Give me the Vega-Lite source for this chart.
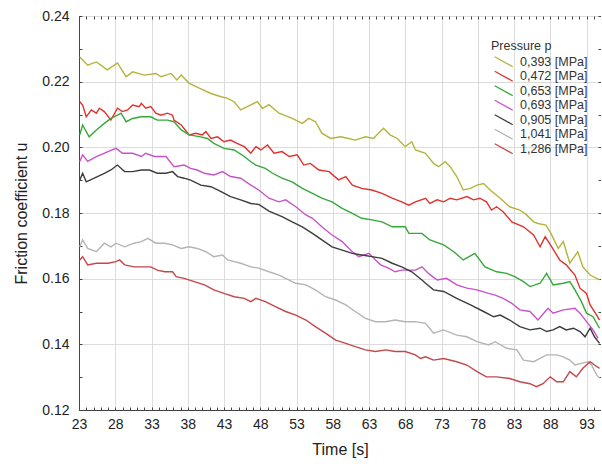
{
  "$schema": "https://vega.github.io/schema/vega-lite/v6.json",
  "autosize": {"type": "none"},
  "padding": {"left": 79, "top": 16, "right": 0, "bottom": 54},
  "width": 522,
  "height": 394,
  "background": "white",
  "config": {
    "font": "Liberation Sans",
    "view": {"stroke": "#555", "strokeWidth": 1},
    "axis": {"labelFont": "Liberation Sans", "titleFont": "Liberation Sans", "labelColor": "#222", "titleColor": "#222", "domainColor": "#444", "tickColor": "#444"}
  },
  "datasets": {
    "raw": [
      {"p":"0,393 [MPa]","t":23.1,"u":0.2275},{"p":"0,393 [MPa]","t":24.2,"u":0.225},{"p":"0,393 [MPa]","t":25.4,"u":0.226},{"p":"0,393 [MPa]","t":26.9,"u":0.2236},{"p":"0,393 [MPa]","t":28.3,"u":0.2257},{"p":"0,393 [MPa]","t":29.5,"u":0.2215},{"p":"0,393 [MPa]","t":30.4,"u":0.223},{"p":"0,393 [MPa]","t":32.0,"u":0.222},{"p":"0,393 [MPa]","t":33.6,"u":0.2225},{"p":"0,393 [MPa]","t":34.3,"u":0.2215},{"p":"0,393 [MPa]","t":35.7,"u":0.2225},{"p":"0,393 [MPa]","t":36.5,"u":0.2205},{"p":"0,393 [MPa]","t":37.1,"u":0.222},{"p":"0,393 [MPa]","t":38.2,"u":0.2195},{"p":"0,393 [MPa]","t":39.6,"u":0.218},{"p":"0,393 [MPa]","t":41.2,"u":0.2164},{"p":"0,393 [MPa]","t":42.6,"u":0.2154},{"p":"0,393 [MPa]","t":43.4,"u":0.215},{"p":"0,393 [MPa]","t":44.4,"u":0.2139},{"p":"0,393 [MPa]","t":45.3,"u":0.2114},{"p":"0,393 [MPa]","t":46.2,"u":0.2124},{"p":"0,393 [MPa]","t":47.6,"u":0.2139},{"p":"0,393 [MPa]","t":48.3,"u":0.2119},{"p":"0,393 [MPa]","t":49.2,"u":0.213},{"p":"0,393 [MPa]","t":50.6,"u":0.2104},{"p":"0,393 [MPa]","t":52.4,"u":0.2088},{"p":"0,393 [MPa]","t":53.8,"u":0.2073},{"p":"0,393 [MPa]","t":54.7,"u":0.2088},{"p":"0,393 [MPa]","t":55.6,"u":0.2078},{"p":"0,393 [MPa]","t":56.5,"u":0.2043},{"p":"0,393 [MPa]","t":57.7,"u":0.2027},{"p":"0,393 [MPa]","t":59.1,"u":0.2032},{"p":"0,393 [MPa]","t":60.2,"u":0.2027},{"p":"0,393 [MPa]","t":61.1,"u":0.2022},{"p":"0,393 [MPa]","t":62.5,"u":0.2032},{"p":"0,393 [MPa]","t":63.6,"u":0.2027},{"p":"0,393 [MPa]","t":65.0,"u":0.2058},{"p":"0,393 [MPa]","t":65.9,"u":0.2038},{"p":"0,393 [MPa]","t":66.9,"u":0.2027},{"p":"0,393 [MPa]","t":68.0,"u":0.2002},{"p":"0,393 [MPa]","t":68.9,"u":0.2017},{"p":"0,393 [MPa]","t":69.4,"u":0.1992},{"p":"0,393 [MPa]","t":70.8,"u":0.1982},{"p":"0,393 [MPa]","t":71.9,"u":0.1951},{"p":"0,393 [MPa]","t":72.6,"u":0.1941},{"p":"0,393 [MPa]","t":73.5,"u":0.1956},{"p":"0,393 [MPa]","t":74.2,"u":0.1941},{"p":"0,393 [MPa]","t":75.1,"u":0.1911},{"p":"0,393 [MPa]","t":76.0,"u":0.187},{"p":"0,393 [MPa]","t":77.0,"u":0.1875},{"p":"0,393 [MPa]","t":77.9,"u":0.1885},{"p":"0,393 [MPa]","t":78.8,"u":0.189},{"p":"0,393 [MPa]","t":79.7,"u":0.187},{"p":"0,393 [MPa]","t":81.1,"u":0.1845},{"p":"0,393 [MPa]","t":82.4,"u":0.1819},{"p":"0,393 [MPa]","t":83.8,"u":0.1809},{"p":"0,393 [MPa]","t":84.7,"u":0.1795},{"p":"0,393 [MPa]","t":85.7,"u":0.1773},{"p":"0,393 [MPa]","t":86.3,"u":0.1768},{"p":"0,393 [MPa]","t":87.4,"u":0.1763},{"p":"0,393 [MPa]","t":88.1,"u":0.1738},{"p":"0,393 [MPa]","t":89.1,"u":0.1692},{"p":"0,393 [MPa]","t":89.8,"u":0.1713},{"p":"0,393 [MPa]","t":90.7,"u":0.1647},{"p":"0,393 [MPa]","t":91.8,"u":0.1682},{"p":"0,393 [MPa]","t":92.5,"u":0.1636},{"p":"0,393 [MPa]","t":93.5,"u":0.1611},{"p":"0,393 [MPa]","t":94.8,"u":0.1596},

      {"p":"0,472 [MPa]","t":23.1,"u":0.2139},{"p":"0,472 [MPa]","t":23.5,"u":0.2129},{"p":"0,472 [MPa]","t":24.0,"u":0.2093},{"p":"0,472 [MPa]","t":24.7,"u":0.2114},{"p":"0,472 [MPa]","t":25.4,"u":0.2104},{"p":"0,472 [MPa]","t":25.8,"u":0.2119},{"p":"0,472 [MPa]","t":26.5,"u":0.2109},{"p":"0,472 [MPa]","t":27.4,"u":0.2083},{"p":"0,472 [MPa]","t":28.3,"u":0.2119},{"p":"0,472 [MPa]","t":29.0,"u":0.2109},{"p":"0,472 [MPa]","t":29.7,"u":0.2114},{"p":"0,472 [MPa]","t":30.4,"u":0.2129},{"p":"0,472 [MPa]","t":31.3,"u":0.2124},{"p":"0,472 [MPa]","t":31.6,"u":0.2134},{"p":"0,472 [MPa]","t":32.2,"u":0.2119},{"p":"0,472 [MPa]","t":32.9,"u":0.2124},{"p":"0,472 [MPa]","t":33.6,"u":0.2104},{"p":"0,472 [MPa]","t":34.3,"u":0.2098},{"p":"0,472 [MPa]","t":35.2,"u":0.2104},{"p":"0,472 [MPa]","t":35.9,"u":0.2098},{"p":"0,472 [MPa]","t":36.1,"u":0.2083},{"p":"0,472 [MPa]","t":37.1,"u":0.2068},{"p":"0,472 [MPa]","t":38.2,"u":0.2038},{"p":"0,472 [MPa]","t":39.1,"u":0.2043},{"p":"0,472 [MPa]","t":40.0,"u":0.2038},{"p":"0,472 [MPa]","t":40.5,"u":0.2048},{"p":"0,472 [MPa]","t":41.2,"u":0.2027},{"p":"0,472 [MPa]","t":42.1,"u":0.2032},{"p":"0,472 [MPa]","t":43.0,"u":0.2017},{"p":"0,472 [MPa]","t":43.9,"u":0.2022},{"p":"0,472 [MPa]","t":44.8,"u":0.2012},{"p":"0,472 [MPa]","t":45.8,"u":0.2002},{"p":"0,472 [MPa]","t":46.7,"u":0.1982},{"p":"0,472 [MPa]","t":47.4,"u":0.2002},{"p":"0,472 [MPa]","t":48.1,"u":0.1992},{"p":"0,472 [MPa]","t":49.0,"u":0.2007},{"p":"0,472 [MPa]","t":49.9,"u":0.1982},{"p":"0,472 [MPa]","t":51.0,"u":0.1987},{"p":"0,472 [MPa]","t":52.0,"u":0.1972},{"p":"0,472 [MPa]","t":53.1,"u":0.1977},{"p":"0,472 [MPa]","t":54.0,"u":0.1946},{"p":"0,472 [MPa]","t":54.9,"u":0.1951},{"p":"0,472 [MPa]","t":56.1,"u":0.1931},{"p":"0,472 [MPa]","t":57.5,"u":0.1926},{"p":"0,472 [MPa]","t":58.8,"u":0.1901},{"p":"0,472 [MPa]","t":59.8,"u":0.1911},{"p":"0,472 [MPa]","t":60.7,"u":0.1885},{"p":"0,472 [MPa]","t":62.0,"u":0.1875},{"p":"0,472 [MPa]","t":63.4,"u":0.187},{"p":"0,472 [MPa]","t":64.8,"u":0.186},{"p":"0,472 [MPa]","t":66.2,"u":0.1845},{"p":"0,472 [MPa]","t":67.5,"u":0.1834},{"p":"0,472 [MPa]","t":68.5,"u":0.1824},{"p":"0,472 [MPa]","t":69.4,"u":0.1834},{"p":"0,472 [MPa]","t":70.8,"u":0.1845},{"p":"0,472 [MPa]","t":71.4,"u":0.1829},{"p":"0,472 [MPa]","t":72.4,"u":0.184},{"p":"0,472 [MPa]","t":73.3,"u":0.1834},{"p":"0,472 [MPa]","t":74.2,"u":0.1845},{"p":"0,472 [MPa]","t":75.1,"u":0.184},{"p":"0,472 [MPa]","t":76.5,"u":0.185},{"p":"0,472 [MPa]","t":77.4,"u":0.184},{"p":"0,472 [MPa]","t":78.3,"u":0.1845},{"p":"0,472 [MPa]","t":79.2,"u":0.1834},{"p":"0,472 [MPa]","t":79.9,"u":0.1809},{"p":"0,472 [MPa]","t":80.6,"u":0.1819},{"p":"0,472 [MPa]","t":81.5,"u":0.1804},{"p":"0,472 [MPa]","t":82.7,"u":0.1773},{"p":"0,472 [MPa]","t":84.3,"u":0.1758},{"p":"0,472 [MPa]","t":85.7,"u":0.1733},{"p":"0,472 [MPa]","t":86.6,"u":0.1697},{"p":"0,472 [MPa]","t":87.3,"u":0.1728},{"p":"0,472 [MPa]","t":88.2,"u":0.1697},{"p":"0,472 [MPa]","t":89.3,"u":0.1657},{"p":"0,472 [MPa]","t":90.2,"u":0.1642},{"p":"0,472 [MPa]","t":91.4,"u":0.1611},{"p":"0,472 [MPa]","t":92.1,"u":0.1571},{"p":"0,472 [MPa]","t":93.0,"u":0.1555},{"p":"0,472 [MPa]","t":93.5,"u":0.152},{"p":"0,472 [MPa]","t":94.4,"u":0.1489},{"p":"0,472 [MPa]","t":94.8,"u":0.1474},

      {"p":"0,653 [MPa]","t":23.1,"u":0.2038},{"p":"0,653 [MPa]","t":23.5,"u":0.2068},{"p":"0,653 [MPa]","t":24.4,"u":0.2032},{"p":"0,653 [MPa]","t":25.4,"u":0.2053},{"p":"0,653 [MPa]","t":26.5,"u":0.2073},{"p":"0,653 [MPa]","t":27.4,"u":0.2088},{"p":"0,653 [MPa]","t":28.3,"u":0.2098},{"p":"0,653 [MPa]","t":28.8,"u":0.2104},{"p":"0,653 [MPa]","t":29.5,"u":0.2078},{"p":"0,653 [MPa]","t":30.4,"u":0.2088},{"p":"0,653 [MPa]","t":31.6,"u":0.2093},{"p":"0,653 [MPa]","t":32.9,"u":0.2093},{"p":"0,653 [MPa]","t":33.8,"u":0.2083},{"p":"0,653 [MPa]","t":35.2,"u":0.2083},{"p":"0,653 [MPa]","t":36.1,"u":0.2078},{"p":"0,653 [MPa]","t":37.1,"u":0.2053},{"p":"0,653 [MPa]","t":38.2,"u":0.2038},{"p":"0,653 [MPa]","t":39.8,"u":0.2032},{"p":"0,653 [MPa]","t":40.7,"u":0.2027},{"p":"0,653 [MPa]","t":41.6,"u":0.2012},{"p":"0,653 [MPa]","t":43.0,"u":0.1997},{"p":"0,653 [MPa]","t":44.4,"u":0.1992},{"p":"0,653 [MPa]","t":45.8,"u":0.1972},{"p":"0,653 [MPa]","t":46.7,"u":0.1956},{"p":"0,653 [MPa]","t":47.4,"u":0.1946},{"p":"0,653 [MPa]","t":48.7,"u":0.1936},{"p":"0,653 [MPa]","t":49.7,"u":0.1921},{"p":"0,653 [MPa]","t":51.0,"u":0.1906},{"p":"0,653 [MPa]","t":52.4,"u":0.1895},{"p":"0,653 [MPa]","t":53.8,"u":0.1875},{"p":"0,653 [MPa]","t":55.2,"u":0.186},{"p":"0,653 [MPa]","t":56.5,"u":0.1845},{"p":"0,653 [MPa]","t":57.9,"u":0.1834},{"p":"0,653 [MPa]","t":59.3,"u":0.1814},{"p":"0,653 [MPa]","t":60.7,"u":0.1799},{"p":"0,653 [MPa]","t":62.0,"u":0.1784},{"p":"0,653 [MPa]","t":63.4,"u":0.1779},{"p":"0,653 [MPa]","t":64.8,"u":0.1773},{"p":"0,653 [MPa]","t":66.2,"u":0.1758},{"p":"0,653 [MPa]","t":68.0,"u":0.1758},{"p":"0,653 [MPa]","t":68.5,"u":0.1738},{"p":"0,653 [MPa]","t":70.3,"u":0.1738},{"p":"0,653 [MPa]","t":71.4,"u":0.1718},{"p":"0,653 [MPa]","t":73.3,"u":0.1703},{"p":"0,653 [MPa]","t":74.7,"u":0.1682},{"p":"0,653 [MPa]","t":76.0,"u":0.1657},{"p":"0,653 [MPa]","t":77.6,"u":0.1677},{"p":"0,653 [MPa]","t":79.0,"u":0.1636},{"p":"0,653 [MPa]","t":80.6,"u":0.1621},{"p":"0,653 [MPa]","t":82.0,"u":0.1616},{"p":"0,653 [MPa]","t":83.1,"u":0.1606},{"p":"0,653 [MPa]","t":84.3,"u":0.1591},{"p":"0,653 [MPa]","t":85.2,"u":0.1576},{"p":"0,653 [MPa]","t":86.6,"u":0.1586},{"p":"0,653 [MPa]","t":87.5,"u":0.1616},{"p":"0,653 [MPa]","t":88.4,"u":0.1581},{"p":"0,653 [MPa]","t":89.8,"u":0.1586},{"p":"0,653 [MPa]","t":90.7,"u":0.1591},{"p":"0,653 [MPa]","t":91.4,"u":0.1566},{"p":"0,653 [MPa]","t":92.3,"u":0.153},{"p":"0,653 [MPa]","t":93.0,"u":0.1495},{"p":"0,653 [MPa]","t":93.9,"u":0.1484},{"p":"0,653 [MPa]","t":94.8,"u":0.1449},

      {"p":"0,693 [MPa]","t":23.1,"u":0.1957},{"p":"0,693 [MPa]","t":23.5,"u":0.1977},{"p":"0,693 [MPa]","t":24.2,"u":0.1957},{"p":"0,693 [MPa]","t":25.4,"u":0.1972},{"p":"0,693 [MPa]","t":27.0,"u":0.1987},{"p":"0,693 [MPa]","t":28.1,"u":0.1997},{"p":"0,693 [MPa]","t":29.0,"u":0.1982},{"p":"0,693 [MPa]","t":30.4,"u":0.1982},{"p":"0,693 [MPa]","t":31.6,"u":0.1972},{"p":"0,693 [MPa]","t":32.2,"u":0.1982},{"p":"0,693 [MPa]","t":33.4,"u":0.1972},{"p":"0,693 [MPa]","t":35.0,"u":0.1972},{"p":"0,693 [MPa]","t":36.1,"u":0.1941},{"p":"0,693 [MPa]","t":37.5,"u":0.1946},{"p":"0,693 [MPa]","t":38.4,"u":0.1936},{"p":"0,693 [MPa]","t":39.3,"u":0.1931},{"p":"0,693 [MPa]","t":40.3,"u":0.1921},{"p":"0,693 [MPa]","t":41.6,"u":0.1916},{"p":"0,693 [MPa]","t":42.8,"u":0.1926},{"p":"0,693 [MPa]","t":43.9,"u":0.1911},{"p":"0,693 [MPa]","t":45.3,"u":0.1906},{"p":"0,693 [MPa]","t":46.7,"u":0.1885},{"p":"0,693 [MPa]","t":47.8,"u":0.187},{"p":"0,693 [MPa]","t":49.2,"u":0.1845},{"p":"0,693 [MPa]","t":50.6,"u":0.1834},{"p":"0,693 [MPa]","t":51.5,"u":0.184},{"p":"0,693 [MPa]","t":52.9,"u":0.1819},{"p":"0,693 [MPa]","t":54.3,"u":0.1794},{"p":"0,693 [MPa]","t":55.2,"u":0.1784},{"p":"0,693 [MPa]","t":56.5,"u":0.1758},{"p":"0,693 [MPa]","t":57.9,"u":0.1733},{"p":"0,693 [MPa]","t":59.3,"u":0.1713},{"p":"0,693 [MPa]","t":60.7,"u":0.1682},{"p":"0,693 [MPa]","t":61.6,"u":0.1667},{"p":"0,693 [MPa]","t":63.0,"u":0.1677},{"p":"0,693 [MPa]","t":63.9,"u":0.1657},{"p":"0,693 [MPa]","t":64.6,"u":0.1642},{"p":"0,693 [MPa]","t":65.7,"u":0.1632},{"p":"0,693 [MPa]","t":66.6,"u":0.1621},{"p":"0,693 [MPa]","t":67.5,"u":0.1626},{"p":"0,693 [MPa]","t":68.5,"u":0.1626},{"p":"0,693 [MPa]","t":69.4,"u":0.1626},{"p":"0,693 [MPa]","t":70.3,"u":0.1636},{"p":"0,693 [MPa]","t":71.2,"u":0.1616},{"p":"0,693 [MPa]","t":72.4,"u":0.1596},{"p":"0,693 [MPa]","t":73.7,"u":0.1601},{"p":"0,693 [MPa]","t":75.1,"u":0.1581},{"p":"0,693 [MPa]","t":76.5,"u":0.1571},{"p":"0,693 [MPa]","t":77.9,"u":0.1566},{"p":"0,693 [MPa]","t":79.5,"u":0.1555},{"p":"0,693 [MPa]","t":80.4,"u":0.155},{"p":"0,693 [MPa]","t":81.5,"u":0.154},{"p":"0,693 [MPa]","t":82.7,"u":0.1525},{"p":"0,693 [MPa]","t":83.8,"u":0.1505},{"p":"0,693 [MPa]","t":85.2,"u":0.15},{"p":"0,693 [MPa]","t":86.3,"u":0.1474},{"p":"0,693 [MPa]","t":87.7,"u":0.151},{"p":"0,693 [MPa]","t":88.4,"u":0.1495},{"p":"0,693 [MPa]","t":89.8,"u":0.1505},{"p":"0,693 [MPa]","t":91.4,"u":0.151},{"p":"0,693 [MPa]","t":92.1,"u":0.1495},{"p":"0,693 [MPa]","t":93.0,"u":0.1469},{"p":"0,693 [MPa]","t":93.9,"u":0.1444},{"p":"0,693 [MPa]","t":94.6,"u":0.1418},

      {"p":"0,905 [MPa]","t":23.1,"u":0.19},{"p":"0,905 [MPa]","t":23.5,"u":0.1921},{"p":"0,905 [MPa]","t":24.0,"u":0.1895},{"p":"0,905 [MPa]","t":25.1,"u":0.1906},{"p":"0,905 [MPa]","t":26.5,"u":0.1921},{"p":"0,905 [MPa]","t":27.4,"u":0.1931},{"p":"0,905 [MPa]","t":28.3,"u":0.1946},{"p":"0,905 [MPa]","t":29.3,"u":0.1926},{"p":"0,905 [MPa]","t":30.4,"u":0.1926},{"p":"0,905 [MPa]","t":31.6,"u":0.1931},{"p":"0,905 [MPa]","t":32.7,"u":0.1931},{"p":"0,905 [MPa]","t":33.8,"u":0.1921},{"p":"0,905 [MPa]","t":35.0,"u":0.1921},{"p":"0,905 [MPa]","t":35.9,"u":0.1926},{"p":"0,905 [MPa]","t":36.6,"u":0.1911},{"p":"0,905 [MPa]","t":37.5,"u":0.1906},{"p":"0,905 [MPa]","t":38.4,"u":0.19},{"p":"0,905 [MPa]","t":39.8,"u":0.1885},{"p":"0,905 [MPa]","t":41.2,"u":0.188},{"p":"0,905 [MPa]","t":42.6,"u":0.1865},{"p":"0,905 [MPa]","t":43.9,"u":0.185},{"p":"0,905 [MPa]","t":45.3,"u":0.184},{"p":"0,905 [MPa]","t":46.7,"u":0.1829},{"p":"0,905 [MPa]","t":47.8,"u":0.1826},{"p":"0,905 [MPa]","t":49.2,"u":0.1806},{"p":"0,905 [MPa]","t":51.0,"u":0.1789},{"p":"0,905 [MPa]","t":52.4,"u":0.1773},{"p":"0,905 [MPa]","t":53.8,"u":0.1758},{"p":"0,905 [MPa]","t":55.2,"u":0.1738},{"p":"0,905 [MPa]","t":56.5,"u":0.1718},{"p":"0,905 [MPa]","t":57.9,"u":0.1697},{"p":"0,905 [MPa]","t":59.3,"u":0.1687},{"p":"0,905 [MPa]","t":60.7,"u":0.1677},{"p":"0,905 [MPa]","t":62.0,"u":0.1672},{"p":"0,905 [MPa]","t":63.4,"u":0.1667},{"p":"0,905 [MPa]","t":64.8,"u":0.1662},{"p":"0,905 [MPa]","t":66.2,"u":0.1647},{"p":"0,905 [MPa]","t":67.5,"u":0.1636},{"p":"0,905 [MPa]","t":68.9,"u":0.1621},{"p":"0,905 [MPa]","t":70.3,"u":0.1596},{"p":"0,905 [MPa]","t":70.8,"u":0.1586},{"p":"0,905 [MPa]","t":71.9,"u":0.1566},{"p":"0,905 [MPa]","t":73.3,"u":0.1561},{"p":"0,905 [MPa]","t":75.1,"u":0.154},{"p":"0,905 [MPa]","t":77.0,"u":0.152},{"p":"0,905 [MPa]","t":78.8,"u":0.15},{"p":"0,905 [MPa]","t":80.2,"u":0.1484},{"p":"0,905 [MPa]","t":81.1,"u":0.1489},{"p":"0,905 [MPa]","t":82.4,"u":0.1474},{"p":"0,905 [MPa]","t":83.8,"u":0.1454},{"p":"0,905 [MPa]","t":85.2,"u":0.1444},{"p":"0,905 [MPa]","t":86.6,"u":0.1449},{"p":"0,905 [MPa]","t":87.5,"u":0.1439},{"p":"0,905 [MPa]","t":88.4,"u":0.1444},{"p":"0,905 [MPa]","t":89.3,"u":0.1454},{"p":"0,905 [MPa]","t":90.2,"u":0.1444},{"p":"0,905 [MPa]","t":91.2,"u":0.1449},{"p":"0,905 [MPa]","t":92.1,"u":0.1439},{"p":"0,905 [MPa]","t":92.8,"u":0.1423},{"p":"0,905 [MPa]","t":93.5,"u":0.1449},{"p":"0,905 [MPa]","t":94.1,"u":0.1423},{"p":"0,905 [MPa]","t":94.8,"u":0.1403},

      {"p":"1,041 [MPa]","t":23.1,"u":0.1697},{"p":"1,041 [MPa]","t":23.5,"u":0.1718},{"p":"1,041 [MPa]","t":24.2,"u":0.1692},{"p":"1,041 [MPa]","t":25.4,"u":0.1682},{"p":"1,041 [MPa]","t":26.5,"u":0.1708},{"p":"1,041 [MPa]","t":27.4,"u":0.1697},{"p":"1,041 [MPa]","t":28.1,"u":0.1708},{"p":"1,041 [MPa]","t":29.3,"u":0.1697},{"p":"1,041 [MPa]","t":30.6,"u":0.1708},{"p":"1,041 [MPa]","t":31.6,"u":0.1713},{"p":"1,041 [MPa]","t":32.5,"u":0.1723},{"p":"1,041 [MPa]","t":33.6,"u":0.1708},{"p":"1,041 [MPa]","t":34.8,"u":0.1708},{"p":"1,041 [MPa]","t":35.9,"u":0.1703},{"p":"1,041 [MPa]","t":37.1,"u":0.1692},{"p":"1,041 [MPa]","t":38.2,"u":0.1697},{"p":"1,041 [MPa]","t":39.3,"u":0.1692},{"p":"1,041 [MPa]","t":40.5,"u":0.1682},{"p":"1,041 [MPa]","t":41.6,"u":0.1667},{"p":"1,041 [MPa]","t":42.8,"u":0.1672},{"p":"1,041 [MPa]","t":43.5,"u":0.1657},{"p":"1,041 [MPa]","t":44.4,"u":0.1652},{"p":"1,041 [MPa]","t":45.3,"u":0.1647},{"p":"1,041 [MPa]","t":46.7,"u":0.1636},{"p":"1,041 [MPa]","t":47.8,"u":0.1632},{"p":"1,041 [MPa]","t":49.2,"u":0.1621},{"p":"1,041 [MPa]","t":50.6,"u":0.1611},{"p":"1,041 [MPa]","t":51.5,"u":0.1601},{"p":"1,041 [MPa]","t":52.9,"u":0.1586},{"p":"1,041 [MPa]","t":54.3,"u":0.1581},{"p":"1,041 [MPa]","t":55.6,"u":0.1566},{"p":"1,041 [MPa]","t":57.0,"u":0.1545},{"p":"1,041 [MPa]","t":58.4,"u":0.1535},{"p":"1,041 [MPa]","t":59.8,"u":0.152},{"p":"1,041 [MPa]","t":61.1,"u":0.15},{"p":"1,041 [MPa]","t":62.5,"u":0.1479},{"p":"1,041 [MPa]","t":63.9,"u":0.1469},{"p":"1,041 [MPa]","t":65.3,"u":0.1469},{"p":"1,041 [MPa]","t":66.6,"u":0.1474},{"p":"1,041 [MPa]","t":68.0,"u":0.1469},{"p":"1,041 [MPa]","t":69.4,"u":0.1469},{"p":"1,041 [MPa]","t":70.8,"u":0.1464},{"p":"1,041 [MPa]","t":71.9,"u":0.1434},{"p":"1,041 [MPa]","t":73.3,"u":0.1444},{"p":"1,041 [MPa]","t":75.1,"u":0.1428},{"p":"1,041 [MPa]","t":76.5,"u":0.1423},{"p":"1,041 [MPa]","t":77.9,"u":0.1408},{"p":"1,041 [MPa]","t":79.5,"u":0.1398},{"p":"1,041 [MPa]","t":80.4,"u":0.1408},{"p":"1,041 [MPa]","t":82.0,"u":0.1388},{"p":"1,041 [MPa]","t":83.4,"u":0.1383},{"p":"1,041 [MPa]","t":84.3,"u":0.1352},{"p":"1,041 [MPa]","t":85.7,"u":0.1347},{"p":"1,041 [MPa]","t":86.6,"u":0.1357},{"p":"1,041 [MPa]","t":87.5,"u":0.1368},{"p":"1,041 [MPa]","t":88.9,"u":0.1368},{"p":"1,041 [MPa]","t":89.8,"u":0.1362},{"p":"1,041 [MPa]","t":90.7,"u":0.1352},{"p":"1,041 [MPa]","t":91.4,"u":0.1337},{"p":"1,041 [MPa]","t":92.3,"u":0.1342},{"p":"1,041 [MPa]","t":93.2,"u":0.1347},{"p":"1,041 [MPa]","t":93.7,"u":0.1337},{"p":"1,041 [MPa]","t":94.4,"u":0.1307},{"p":"1,041 [MPa]","t":94.8,"u":0.1297},

      {"p":"1,286 [MPa]","t":23.1,"u":0.1657},{"p":"1,286 [MPa]","t":23.5,"u":0.1667},{"p":"1,286 [MPa]","t":24.2,"u":0.1642},{"p":"1,286 [MPa]","t":25.4,"u":0.1647},{"p":"1,286 [MPa]","t":27.0,"u":0.1647},{"p":"1,286 [MPa]","t":28.1,"u":0.1652},{"p":"1,286 [MPa]","t":28.6,"u":0.1657},{"p":"1,286 [MPa]","t":29.3,"u":0.1642},{"p":"1,286 [MPa]","t":30.6,"u":0.1636},{"p":"1,286 [MPa]","t":32.0,"u":0.1636},{"p":"1,286 [MPa]","t":32.9,"u":0.1636},{"p":"1,286 [MPa]","t":33.8,"u":0.1626},{"p":"1,286 [MPa]","t":34.8,"u":0.1621},{"p":"1,286 [MPa]","t":35.9,"u":0.1621},{"p":"1,286 [MPa]","t":36.4,"u":0.1606},{"p":"1,286 [MPa]","t":37.5,"u":0.1601},{"p":"1,286 [MPa]","t":38.9,"u":0.1591},{"p":"1,286 [MPa]","t":40.3,"u":0.1581},{"p":"1,286 [MPa]","t":41.6,"u":0.1566},{"p":"1,286 [MPa]","t":43.0,"u":0.1555},{"p":"1,286 [MPa]","t":44.4,"u":0.1545},{"p":"1,286 [MPa]","t":45.8,"u":0.154},{"p":"1,286 [MPa]","t":46.7,"u":0.153},{"p":"1,286 [MPa]","t":47.4,"u":0.154},{"p":"1,286 [MPa]","t":48.7,"u":0.153},{"p":"1,286 [MPa]","t":50.1,"u":0.1515},{"p":"1,286 [MPa]","t":51.5,"u":0.15},{"p":"1,286 [MPa]","t":52.9,"u":0.1489},{"p":"1,286 [MPa]","t":54.3,"u":0.1474},{"p":"1,286 [MPa]","t":55.6,"u":0.1454},{"p":"1,286 [MPa]","t":57.0,"u":0.1434},{"p":"1,286 [MPa]","t":58.4,"u":0.1413},{"p":"1,286 [MPa]","t":59.8,"u":0.1403},{"p":"1,286 [MPa]","t":61.1,"u":0.1393},{"p":"1,286 [MPa]","t":62.5,"u":0.1383},{"p":"1,286 [MPa]","t":63.9,"u":0.1378},{"p":"1,286 [MPa]","t":65.3,"u":0.1383},{"p":"1,286 [MPa]","t":66.6,"u":0.1378},{"p":"1,286 [MPa]","t":68.0,"u":0.1378},{"p":"1,286 [MPa]","t":69.4,"u":0.1368},{"p":"1,286 [MPa]","t":70.1,"u":0.1357},{"p":"1,286 [MPa]","t":70.8,"u":0.1362},{"p":"1,286 [MPa]","t":71.9,"u":0.1352},{"p":"1,286 [MPa]","t":73.3,"u":0.1357},{"p":"1,286 [MPa]","t":75.1,"u":0.1347},{"p":"1,286 [MPa]","t":76.5,"u":0.1337},{"p":"1,286 [MPa]","t":77.9,"u":0.1317},{"p":"1,286 [MPa]","t":79.2,"u":0.1301},{"p":"1,286 [MPa]","t":80.6,"u":0.1301},{"p":"1,286 [MPa]","t":82.4,"u":0.1296},{"p":"1,286 [MPa]","t":83.8,"u":0.1286},{"p":"1,286 [MPa]","t":85.2,"u":0.128},{"p":"1,286 [MPa]","t":86.1,"u":0.1271},{"p":"1,286 [MPa]","t":87.0,"u":0.128},{"p":"1,286 [MPa]","t":88.0,"u":0.1301},{"p":"1,286 [MPa]","t":88.9,"u":0.1286},{"p":"1,286 [MPa]","t":89.8,"u":0.1286},{"p":"1,286 [MPa]","t":90.7,"u":0.1317},{"p":"1,286 [MPa]","t":91.6,"u":0.1301},{"p":"1,286 [MPa]","t":92.5,"u":0.1327},{"p":"1,286 [MPa]","t":93.5,"u":0.1347},{"p":"1,286 [MPa]","t":94.1,"u":0.1337},{"p":"1,286 [MPa]","t":94.8,"u":0.1327}
    ]
  },
  "data": {"name": "raw"},
  "layer": [
    {
      "mark": {"type": "line", "strokeWidth": 1.4, "clip": true},
      "encoding": {
        "x": {
          "field": "t", "type": "quantitative",
          "scale": {"domain": [23, 95], "nice": false, "zero": false},
          "axis": {
            "orient": "bottom",
            "title": "Time [s]",
            "titleFontSize": 16, "titleFontWeight": "normal", "titlePadding": 10,
            "values": [23,24,25,26,27,28,29,30,31,32,33,34,35,36,37,38,39,40,41,42,43,44,45,46,47,48,49,50,51,52,53,54,55,56,57,58,59,60,61,62,63,64,65,66,67,68,69,70,71,72,73,74,75,76,77,78,79,80,81,82,83,84,85,86,87,88,89,90,91,92,93,94,95],
            "labelExpr": "(datum.value - 23) % 5 == 0 ? datum.value : ''",
            "labelOverlap": false, "labelFlush": false, "labelBound": false,
            "labelFontSize": 14, "labelPadding": 10,
            "grid": true,
            "gridColor": "#dcdcdc", "gridWidth": 1,
            "gridOpacity": {"condition": {"test": "(datum.value - 23) % 5 == 0", "value": 1}, "value": 0},
            "tickSize": -3, "tickWidth": 1,
            "domainColor": "#444"
          }
        },
        "y": {
          "field": "u", "type": "quantitative",
          "scale": {"domain": [0.12, 0.24], "nice": false, "zero": false},
          "axis": {
            "orient": "left",
            "title": "Friction coefficient u",
            "titleFontSize": 16, "titleFontWeight": "normal", "titlePadding": 12,
            "values": [0.12,0.13,0.14,0.15,0.16,0.17,0.18,0.19,0.2,0.21,0.22,0.23,0.24],
            "labelExpr": "round(datum.value * 100) % 2 == 0 ? format(datum.value, '.2f') : ''",
            "labelOverlap": false, "labelFlush": false, "labelBound": false,
            "labelFontSize": 14, "labelPadding": 13,
            "grid": true,
            "gridColor": "#dcdcdc", "gridWidth": 1,
            "gridOpacity": {"condition": {"test": "round(datum.value * 100) % 2 == 0", "value": 1}, "value": 0},
            "tickSize": -3, "tickWidth": 1,
            "domainColor": "#444"
          }
        },
        "color": {
          "field": "p", "type": "nominal",
          "scale": {
            "domain": ["0,393 [MPa]","0,472 [MPa]","0,653 [MPa]","0,693 [MPa]","0,905 [MPa]","1,041 [MPa]","1,286 [MPa]"],
            "range": ["#b4b43c","#e0312c","#36a83a","#c853c8","#3c3c3c","#b4b4b4","#c4474a"]
          },
          "legend": {
            "title": "Pressure p",
            "orient": "none", "legendX": 412, "legendY": 24,
            "padding": 0,
            "titleFontSize": 12.5, "titleFontWeight": "normal", "titleColor": "#333", "titlePadding": 3,
            "labelFontSize": 12.5, "labelColor": "#333",
            "symbolType": "M-1.8,-1L1.8,1",
            "symbolSize": 100, "symbolStrokeWidth": 1.3,
            "symbolOffset": 6.5, "labelOffset": 10,
            "rowPadding": -1.5
          }
        }
      }
    },
    {
      "mark": {"type": "line", "opacity": 0},
      "encoding": {
        "x": {
          "field": "t", "type": "quantitative",
          "axis": {
            "orient": "top", "title": null, "labels": false, "grid": false, "domain": false,
            "offset": -3,
            "values": [23,24,25,26,27,28,29,30,31,32,33,34,35,36,37,38,39,40,41,42,43,44,45,46,47,48,49,50,51,52,53,54,55,56,57,58,59,60,61,62,63,64,65,66,67,68,69,70,71,72,73,74,75,76,77,78,79,80,81,82,83,84,85,86,87,88,89,90,91,92,93,94,95],
            "tickSize": 3, "tickColor": "#444"
          }
        },
        "y": {
          "field": "u", "type": "quantitative",
          "axis": {
            "orient": "right", "title": null, "labels": false, "grid": false, "domain": false,
            "offset": -3,
            "values": [0.12,0.13,0.14,0.15,0.16,0.17,0.18,0.19,0.2,0.21,0.22,0.23,0.24],
            "tickSize": 3, "tickColor": "#444"
          }
        },
        "detail": {"field": "p", "type": "nominal"}
      }
    }
  ],
  "resolve": {"axis": {"x": "independent", "y": "independent"}}
}
